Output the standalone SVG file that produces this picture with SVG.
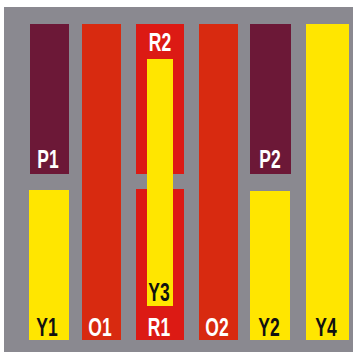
<svg xmlns="http://www.w3.org/2000/svg" width="357" height="354" viewBox="0 0 357 354">
<style>
.p{fill:#6c1837}.o{fill:#d82a10}.r{fill:#dc1a14}.y{fill:#ffe600}
text{font-family:"Liberation Sans",Arial,sans-serif;font-weight:bold;font-size:25px;text-anchor:middle}
.w{fill:#ffffff}.k{fill:#111111}
</style>
<rect x="0" y="0" width="357" height="354" fill="#ffffff"/>
<rect x="4" y="7" width="349" height="345" fill="#8a8990"/>
<g id="P1"><rect class="p" x="30" y="24" width="39" height="150"/><text class="w" transform="translate(48,168) scale(0.7,1)">P1</text></g>
<g id="Y1"><rect class="y" x="29" y="190" width="40" height="150"/><text class="k" transform="translate(47,336) scale(0.7,1)">Y1</text></g>
<g id="O1"><rect class="o" x="82" y="24" width="39" height="316"/><text class="w" transform="translate(100,336) scale(0.7,1)">O1</text></g>
<g id="R2"><rect class="r" x="136" y="24" width="48" height="150"/><text class="w" transform="translate(160,51) scale(0.7,1)">R2</text></g>
<g id="R1"><rect class="r" x="136" y="189" width="48" height="151"/><text class="w" transform="translate(159,336) scale(0.7,1)">R1</text></g>
<g id="Y3"><rect class="y" x="147" y="59" width="26" height="247"/><text class="k" transform="translate(159,301) scale(0.7,1)">Y3</text></g>
<g id="O2"><rect class="o" x="199" y="24" width="39" height="316"/><text class="w" transform="translate(217,336) scale(0.7,1)">O2</text></g>
<g id="P2"><rect class="p" x="250" y="24" width="41" height="150"/><text class="w" transform="translate(270,168) scale(0.7,1)">P2</text></g>
<g id="Y2"><rect class="y" x="250" y="191" width="40" height="149"/><text class="k" transform="translate(269,336) scale(0.7,1)">Y2</text></g>
<g id="Y4"><rect class="y" x="306" y="24" width="43" height="316"/><text class="k" transform="translate(326,336) scale(0.7,1)">Y4</text></g>
<g id="connectors"></g>
</svg>
